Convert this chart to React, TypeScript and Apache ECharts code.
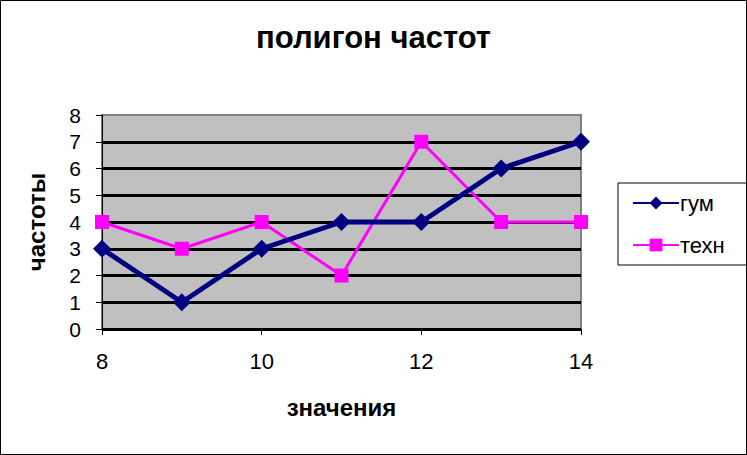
import React, { useEffect, useRef } from "react";
import * as echarts from "echarts";

const xValues = [8, 9, 10, 11, 12, 13, 14];
const gumValues = [3, 1, 3, 4, 4, 6, 7];
const tehnValues = [4, 3, 4, 2, 7, 4, 4];
const seriesNames = ["гум", "техн"];
const titleText = "полигон частот";
const xAxisTitle = "значения";
const yAxisTitle = "частоты";

const FONT = "'Liberation Sans', Arial, sans-serif";

export default function App() {
  const ref = useRef<HTMLDivElement>(null);
  useEffect(() => {
    if (!ref.current) return;
    const chart = echarts.init(ref.current, undefined, { renderer: "svg" });
    const gridLineColors = ["#000", "#000", "#000", "#000", "#000", "#000", "#000", "#000", "rgba(0,0,0,0)"];
    chart.setOption({
      animation: false,
      backgroundColor: "#fff",
      textStyle: { fontFamily: FONT },
      title: {
        text: titleText,
        left: "center",
        top: 17,
        textStyle: { fontFamily: FONT, fontSize: 31, fontWeight: "bold", color: "#000" },
      },
      graphic: [
        {
          type: "rect",
          shape: { x: 0.5, y: 0.5, width: 746, height: 454 },
          style: { fill: "none", stroke: "#000", lineWidth: 1 },
          silent: true,
        },
      ],
      legend: {
        orient: "vertical",
        left: 618,
        top: 183,
        width: 122,
        data: seriesNames,
        borderColor: "#000",
        borderWidth: 1,
        padding: [9, 26, 9, 14],
        itemGap: 20,
        itemWidth: 46,
        itemHeight: 16,
        textStyle: { fontFamily: FONT, fontSize: 22, color: "#000", padding: [0, 0, 0, -4] },
      },
      grid: {
        left: 102,
        top: 115,
        width: 479,
        height: 214,
        show: true,
        backgroundColor: "#C0C0C0",
        borderColor: "#808080",
        borderWidth: 2,
      },
      xAxis: {
        type: "value",
        min: 8,
        max: 14,
        interval: 2,
        name: xAxisTitle,
        nameLocation: "middle",
        nameGap: 66,
        nameTextStyle: { fontFamily: FONT, fontSize: 24, fontWeight: "bold", color: "#000" },
        axisLine: { show: true, lineStyle: { color: "#000", width: 1 } },
        axisTick: { show: true, inside: false, length: 6, lineStyle: { color: "#000" } },
        axisLabel: { fontFamily: FONT, fontSize: 22, color: "#000", margin: 21 },
        splitLine: { show: false },
      },
      yAxis: {
        type: "value",
        min: 0,
        max: 8,
        interval: 1,
        name: yAxisTitle,
        nameLocation: "middle",
        nameGap: 54,
        nameRotate: 90,
        nameTextStyle: { fontFamily: FONT, fontSize: 24, fontWeight: "bold", color: "#000" },
        axisLine: { show: true, lineStyle: { color: "#000", width: 1 } },
        axisTick: { show: true, inside: false, length: 6, lineStyle: { color: "#000" } },
        axisLabel: { fontFamily: FONT, fontSize: 21, color: "#000", margin: 21 },
        splitLine: { show: true, lineStyle: { color: gridLineColors, width: 3 } },
      },
      series: [
        {
          name: seriesNames[0],
          type: "line",
          data: xValues.map((x, i) => [x, gumValues[i]]),
          symbol: "diamond",
          symbolSize: 18,
          lineStyle: { color: "#000080", width: 5 },
          itemStyle: { color: "#000080" },
          z: 3,
        },
        {
          name: seriesNames[1],
          type: "line",
          data: xValues.map((x, i) => [x, tehnValues[i]]),
          symbol: "rect",
          symbolSize: 14,
          lineStyle: { color: "#FF00FF", width: 3 },
          itemStyle: { color: "#FF00FF" },
          z: 2,
        },
      ],
    });
    return () => chart.dispose();
  }, []);
  return (
    <div
      ref={ref}
      style={{ position: "fixed", left: 0, top: 0, width: 747, height: 455 }}
    />
  );
}
